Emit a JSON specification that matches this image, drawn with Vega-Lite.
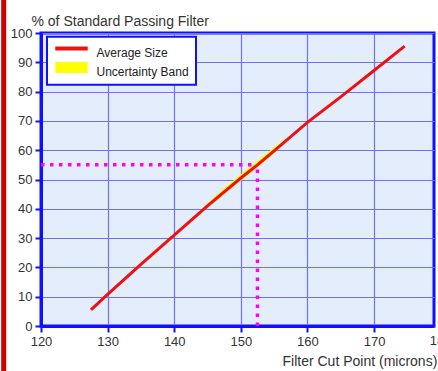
{
  "$schema": "https://vega.github.io/schema/vega-lite/v6.json",
  "width": 393,
  "height": 293,
  "autosize": {"type": "none"},
  "padding": {"left": 41, "top": 33, "right": 4, "bottom": 45},
  "background": "white",
  "config": {
    "font": "Liberation Sans",
    "view": {"fill": "#e4edfb", "stroke": "#1010ff", "strokeWidth": 3},
    "axis": {
      "labelFont": "Liberation Sans",
      "titleFont": "Liberation Sans",
      "domainColor": "#1010ff",
      "domainWidth": 3,
      "tickColor": "#1010ff",
      "tickWidth": 2,
      "tickSize": 6,
      "gridColor": "#7070ff",
      "gridWidth": 1.2,
      "labelColor": "#333333",
      "titleColor": "#333333",
      "labelFontSize": 13,
      "titleFontSize": 14,
      "titleFontWeight": "normal",
      "labelOverlap": false
    },
    "legend": {
      "orient": "none",
      "legendX": 6,
      "legendY": 3.7,
      "fillColor": "white",
      "strokeColor": "#1010ff",
      "padding": 6.5,
      "labelFont": "Liberation Sans",
      "labelFontSize": 12,
      "labelColor": "#222222",
      "labelOffset": 15.5,
      "symbolOffset": 8.5,
      "symbolSize": 289,
      "rowPadding": 0
    }
  },
  "datasets": {
    "curve": [
      {"x": 127.5, "y": 5.5},
      {"x": 130, "y": 10.8},
      {"x": 135, "y": 21.0},
      {"x": 140, "y": 31},
      {"x": 145, "y": 41},
      {"x": 150, "y": 50.5},
      {"x": 152.5, "y": 55},
      {"x": 155, "y": 59.8},
      {"x": 160, "y": 69.5},
      {"x": 165, "y": 78.2},
      {"x": 170, "y": 87.2},
      {"x": 174.6, "y": 95.5}
    ],
    "band": [
      {"x": 143.5, "lo": 38, "hi": 38},
      {"x": 145, "lo": 40.4, "hi": 41.9},
      {"x": 147.5, "lo": 45, "hi": 47},
      {"x": 150, "lo": 49.6, "hi": 51.8},
      {"x": 152.5, "lo": 54.1, "hi": 56.3},
      {"x": 155, "lo": 59, "hi": 61},
      {"x": 157, "lo": 63.4, "hi": 64.3},
      {"x": 158, "lo": 65.6, "hi": 65.6}
    ],
    "refs": [
      {"x": 120, "x2": 152.5, "y": 55, "y2": 55},
      {"x": 152.5, "x2": 152.5, "y": 0, "y2": 55}
    ],
    "extra": [{"x": 180, "label": "180"}],
    "frame": [{"x": 114.4, "y": -16, "y2": 112}]
  },
  "encoding": {
    "x": {
      "type": "quantitative",
      "scale": {"domain": [120, 179], "nice": false, "zero": false},
      "axis": {
        "values": [120, 130, 140, 150, 160, 170],
        "grid": true,
        "title": "Filter Cut Point (microns)",
        "titleAlign": "left",
        "titleAnchor": "start",
        "titleX": 241,
        "titleY": 39,
        "titleBaseline": "alphabetic",
        "labelPadding": 3,
        "labelFlush": false,
        "labelOverlap": false
      }
    },
    "y": {
      "type": "quantitative",
      "scale": {"domain": [0, 100], "nice": false},
      "axis": {
        "values": [0, 10, 20, 30, 40, 50, 60, 70, 80, 90, 100],
        "tickCount": 11,
        "grid": true,
        "title": "% of Standard Passing Filter",
        "titleAngle": 0,
        "titleAlign": "left",
        "titleAnchor": "start",
        "titleX": -10,
        "titleY": -8,
        "titleBaseline": "alphabetic",
        "labelPadding": 3,
        "labelOverlap": false
      }
    }
  },
  "layer": [
    {
      "data": {"name": "band"},
      "mark": {"type": "area", "clip": false},
      "encoding": {
        "x": {"field": "x"},
        "y": {"field": "lo"},
        "y2": {"field": "hi"},
        "color": {
          "datum": "Uncertainty Band",
          "scale": {"domain": ["Average Size", "Uncertainty Band"], "range": ["#ee1111", "#ffff00"]},
          "legend": {
            "title": null,
            "encode": {
              "legend": {"update": {"strokeWidth": {"value": 2}}},
              "symbols": {
                "update": {
                  "shape": {"signal": "datum.value == 'Average Size' ? 'M-1.82,-0.65H1.82V-0.35H-1.82Z' : 'M-1.82,-1.05H1.82V0.05H-1.82Z'"},
                  "fill": {"signal": "datum.value == 'Average Size' ? '#ee1111' : '#ffff00'"},
                  "stroke": {"value": "transparent"},
                  "opacity": {"value": 1},
                  "fillOpacity": {"value": 1}
                }
              }
            }
          }
        }
      }
    },
    {
      "data": {"name": "curve"},
      "mark": {"type": "line", "strokeWidth": 3, "clip": false},
      "encoding": {
        "x": {"field": "x"},
        "y": {"field": "y"},
        "color": {"datum": "Average Size"}
      }
    },
    {
      "data": {"name": "refs"},
      "mark": {"type": "rule", "color": "#ff00ff", "strokeWidth": 3.5, "strokeDash": [3.5, 5.5], "strokeCap": "butt"},
      "encoding": {
        "x": {"field": "x"},
        "x2": {"field": "x2"},
        "y": {"field": "y"},
        "y2": {"field": "y2"}
      }
    },
    {
      "data": {"name": "extra"},
      "mark": {"type": "text", "fontSize": 13, "font": "Liberation Sans", "color": "#333333", "baseline": "top", "align": "center", "dy": 9},
      "encoding": {
        "x": {"field": "x"},
        "y": {"datum": 0},
        "text": {"field": "label"}
      }
    },
    {
      "data": {"name": "frame"},
      "mark": {"type": "rule", "color": "#cc0000", "strokeWidth": 5},
      "encoding": {
        "x": {"field": "x"},
        "y": {"field": "y"},
        "y2": {"field": "y2"}
      }
    }
  ]
}
